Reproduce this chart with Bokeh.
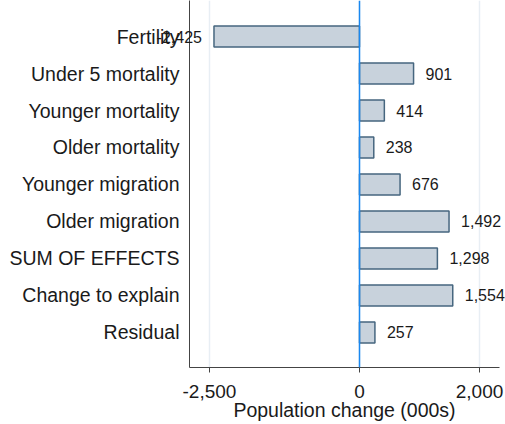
from bokeh.plotting import figure, ColumnDataSource
from bokeh.models import Range1d, FixedTicker, NumeralTickFormatter, Span
from bokeh.core.properties import value
from bokeh.embed import file_html
from bokeh.resources import INLINE

categories = ["Fertility", "Under 5 mortality", "Younger mortality", "Older mortality",
              "Younger migration", "Older migration", "SUM OF EFFECTS",
              "Change to explain", "Residual"]
values = [-2425, 901, 414, 238, 676, 1492, 1298, 1554, 257]
x_ticks = [-2500, 0, 2000]

pos = list(range(1, len(categories) + 1))
labels = [f"{v:,}" for v in values]
aligns = ["right" if v < 0 else "left" for v in values]
offsets = [-12 if v < 0 else 12 for v in values]

src = ColumnDataSource(dict(y=pos, v=values, lab=labels, al=aligns, off=offsets))

FONT = "Liberation Sans"
TXT = "#1a1a1a"

p = figure(width=505, height=424, output_backend="svg", toolbar_location=None,
           x_range=Range1d(-2833, 2333), y_range=Range1d(9.946, 0.027),
           min_border_left=189, min_border_right=6, min_border_top=0, min_border_bottom=57)
p.outline_line_color = None
p.background_fill_color = "white"

p.hbar(y="y", left=0, right="v", height=0.57, source=src,
       fill_color="#c8d2dc", line_color="#46667f", line_width=1.5)

p.add_layout(Span(location=0, dimension="height", line_color="#1a88f0", line_width=1.5))

p.text(x="v", y="y", text="lab", source=src, text_align="al", x_offset="off",
       text_baseline="middle", text_font=value(FONT), text_font_size="16px",
       text_color=TXT, level="overlay")

# x axis
p.xaxis.ticker = FixedTicker(ticks=x_ticks)
p.xaxis.formatter = NumeralTickFormatter(format="0,0")
p.xaxis.axis_label = "Population change (000s)"
p.xaxis.axis_label_text_font = FONT
p.xaxis.axis_label_text_font_style = "normal"
p.xaxis.axis_label_text_font_size = "19.5px"
p.xaxis.axis_label_text_color = TXT
p.xaxis.axis_label_standoff = -2
p.xaxis.major_label_text_font = FONT
p.xaxis.major_label_text_font_size = "19px"
p.xaxis.major_label_text_color = TXT
p.xaxis.major_tick_out = 5
p.xaxis.major_tick_in = 0
p.xaxis.minor_tick_line_color = None
p.xaxis.axis_line_color = "#444444"
p.xaxis.major_tick_line_color = "#444444"
p.xaxis.major_label_standoff = 12

# y axis
p.yaxis.ticker = FixedTicker(ticks=pos)
p.yaxis.major_label_overrides = {i: c for i, c in zip(pos, categories)}
p.yaxis.major_label_text_font = FONT
p.yaxis.major_label_text_font_size = "19.5px"
p.yaxis.major_label_text_color = TXT
p.yaxis.major_tick_line_color = None
p.yaxis.minor_tick_line_color = None
p.yaxis.major_tick_out = 0
p.yaxis.major_tick_in = 0
p.yaxis.major_label_standoff = 10
p.yaxis.axis_line_color = "#444444"

p.xgrid.grid_line_color = "#e8eef4"
p.xgrid.grid_line_width = 1.5
p.ygrid.grid_line_color = None

open("out.html", "w").write(file_html(p, INLINE))
